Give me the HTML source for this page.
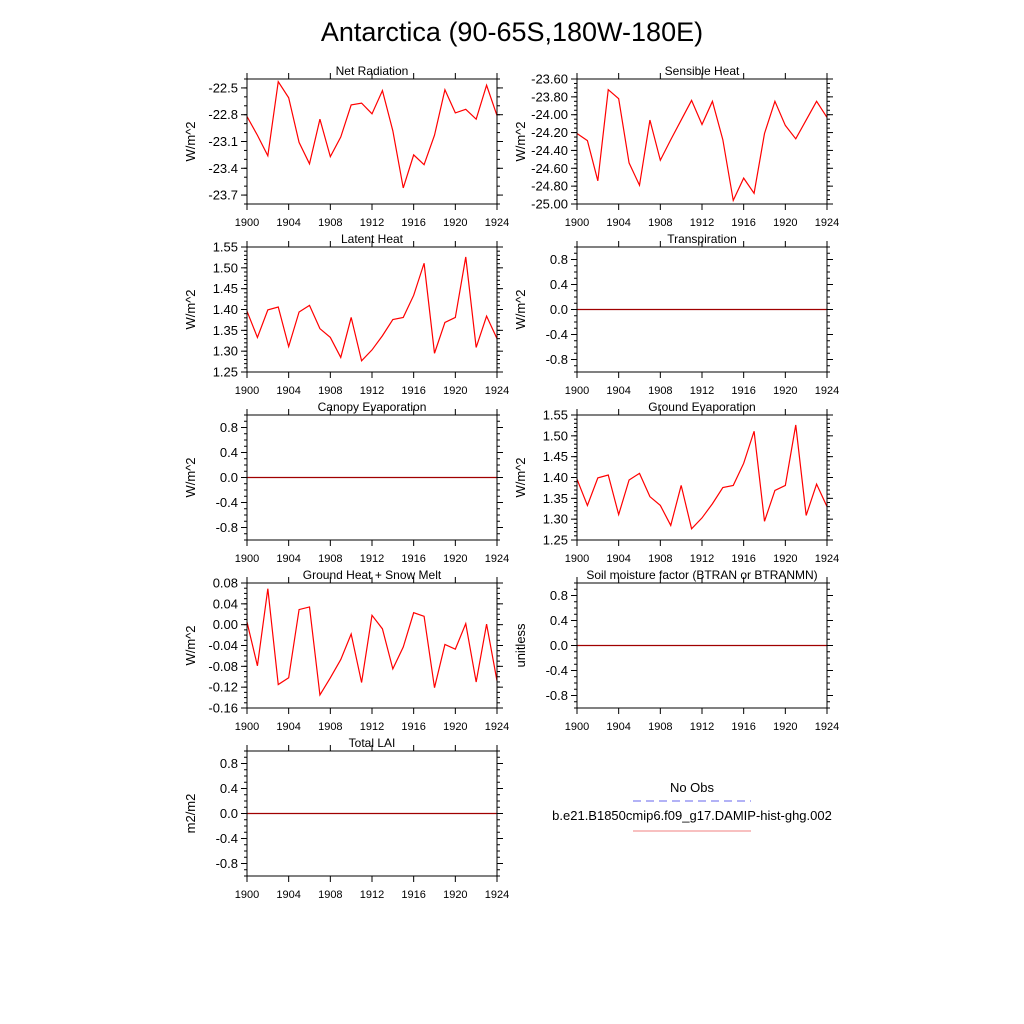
<!DOCTYPE html>
<html><head><meta charset="utf-8"><style>
body{margin:0;background:#fff;}
svg{display:block;font-family:"Liberation Sans",sans-serif;}
</style></head><body>
<svg id="chart" width="1024" height="1024" viewBox="0 0 1024 1024">
<rect width="1024" height="1024" fill="#fff"/>
<text x="512" y="41" text-anchor="middle" font-size="27">Antarctica (90-65S,180W-180E)</text>
<g id="panels"></g>
<g>
<text x="692" y="792" text-anchor="middle" font-size="13">No Obs</text>
<line x1="633" y1="801" x2="751" y2="801" stroke="#6666ee" stroke-width="1" stroke-dasharray="8,5"/>
<text x="692" y="820" text-anchor="middle" font-size="13">b.e21.B1850cmip6.f09_g17.DAMIP-hist-ghg.002</text>
<line x1="633" y1="831" x2="751" y2="831" stroke="#f08080" stroke-width="1"/>
</g>
</svg>
<script>
const years = [1900,1901,1902,1903,1904,1905,1906,1907,1908,1909,1910,1911,1912,1913,1914,1915,1916,1917,1918,1919,1920,1921,1922,1923,1924];
const xTicks = [1900,1904,1908,1912,1916,1920,1924];
const netRad = [-22.82,-23.03,-23.26,-22.43,-22.61,-23.11,-23.35,-22.85,-23.27,-23.05,-22.69,-22.67,-22.79,-22.53,-22.98,-23.62,-23.25,-23.36,-23.03,-22.52,-22.78,-22.74,-22.85,-22.47,-22.81];
const sensible = [-24.21,-24.29,-24.74,-23.72,-23.82,-24.54,-24.79,-24.06,-24.51,-24.28,-24.06,-23.84,-24.11,-23.85,-24.28,-24.96,-24.71,-24.88,-24.21,-23.85,-24.12,-24.27,-24.06,-23.85,-24.03];
const latent = [1.396,1.333,1.399,1.406,1.311,1.394,1.41,1.354,1.333,1.285,1.381,1.277,1.303,1.337,1.376,1.381,1.434,1.511,1.295,1.369,1.381,1.526,1.309,1.384,1.33];
const groundEvap = [1.396,1.333,1.399,1.406,1.311,1.394,1.41,1.354,1.333,1.285,1.381,1.277,1.303,1.337,1.376,1.381,1.434,1.511,1.295,1.369,1.381,1.526,1.309,1.384,1.33];
const groundHeat = [0.005,-0.079,0.069,-0.115,-0.102,0.029,0.034,-0.135,-0.102,-0.067,-0.018,-0.111,0.018,-0.008,-0.085,-0.043,0.023,0.016,-0.121,-0.038,-0.047,0.002,-0.11,0.001,-0.108];
const zeros = [0,0,0,0,0,0,0,0,0,0,0,0,0,0,0,0,0,0,0,0,0,0,0,0,0];
const netRadTicks = [-22.5,-22.8,-23.1,-23.4,-23.7];
const sensibleTicks = [-23.6,-23.8,-24.0,-24.2,-24.4,-24.6,-24.8,-25.0];
const latentTicks = [1.25,1.30,1.35,1.40,1.45,1.50,1.55];
const groundHeatTicks = [0.08,0.04,0.00,-0.04,-0.08,-0.12,-0.16];
const flatTicks = [0.8,0.4,0.0,-0.4,-0.8];

const NS="http://www.w3.org/2000/svg";
const root=document.getElementById('panels');
function mk(tag,attrs,parent){const e=document.createElementNS(NS,tag);for(const k in attrs)e.setAttribute(k,attrs[k]);parent.appendChild(e);return e;}

function panel(slug,title,ylabel,left,top,data,ymin,ymax,ticks,dec,minorStep,lineColor){
  const W=250,H=125;
  const g=mk('g',{},root);
  
  
  const xs=v=>left+(v-1900)/24*W;
  const ys=v=>top+(ymax-v)/(ymax-ymin)*H;
  // minor y ticks
  if(minorStep){
    const n=Math.round((ymax-ymin)/minorStep);
    for(let i=0;i<=n;i++){const y=ys(ymin+i*minorStep);
      mk('line',{x1:left-3,y1:y,x2:left,y2:y,stroke:'#000','stroke-width':1},g);
      mk('line',{x1:left+W,y1:y,x2:left+W+3,y2:y,stroke:'#000','stroke-width':1},g);}
  }
  ticks.forEach(t=>{const y=ys(t);
    mk('line',{x1:left-6,y1:y,x2:left,y2:y,stroke:'#000','stroke-width':1},g);
    mk('line',{x1:left+W,y1:y,x2:left+W+6,y2:y,stroke:'#000','stroke-width':1},g);
    const tx=mk('text',{x:left-9,y:y+4.5,'text-anchor':'end','font-size':13},g);
    
    
    tx.textContent=t.toFixed(dec);});
  xTicks.forEach(t=>{const x=xs(t);
    mk('line',{x1:x,y1:top+H,x2:x,y2:top+H+6,stroke:'#000','stroke-width':1},g);
    mk('line',{x1:x,y1:top-6,x2:x,y2:top,stroke:'#000','stroke-width':1},g);
    const tx=mk('text',{x:x,y:top+H+22,'text-anchor':'middle','font-size':11},g);
    
    
    tx.textContent=t;});
  const pts=years.map((yr,i)=>xs(yr).toFixed(2)+','+ys(data[i]).toFixed(2)).join(' ');
  const pl=mk('polyline',{points:pts,fill:'none',stroke:lineColor,'stroke-width':1.2},g);
  
  
  const fr=mk('rect',{x:left,y:top,width:W,height:H,fill:'none',stroke:'#000','stroke-width':1},g);
  
  
  const tt=mk('text',{x:left+W/2,y:top-4,'text-anchor':'middle','font-size':12},g);
  
  
  tt.textContent=title;
  const yl=mk('text',{x:0,y:0,'text-anchor':'middle','font-size':13,transform:`translate(${left-52},${top+H/2}) rotate(-90)`},g);
  
  
  yl.textContent=ylabel;
}
const L=247,R=577;
panel('net-radiation','Net Radiation','W/m^2',L,79,netRad,-23.8,-22.4,netRadTicks,1,0.1,'#ff0000');
panel('sensible-heat','Sensible Heat','W/m^2',R,79,sensible,-25.0,-23.6,sensibleTicks,2,0.05,'#ff0000');
panel('latent-heat','Latent Heat','W/m^2',L,247,latent,1.25,1.55,latentTicks,2,0.01,'#ff0000');
panel('transpiration','Transpiration','W/m^2',R,247,zeros,-1,1,flatTicks,1,0.1,'#a00000');
panel('canopy-evaporation','Canopy Evaporation','W/m^2',L,415,zeros,-1,1,flatTicks,1,0.1,'#a00000');
panel('ground-evaporation','Ground Evaporation','W/m^2',R,415,groundEvap,1.25,1.55,latentTicks,2,0.01,'#ff0000');
panel('ground-heat-snow-melt','Ground Heat + Snow Melt','W/m^2',L,583,groundHeat,-0.16,0.08,groundHeatTicks,2,0.01,'#ff0000');
panel('soil-moisture-factor','Soil moisture factor (BTRAN or BTRANMN)','unitless',R,583,zeros,-1,1,flatTicks,1,0.1,'#a00000');
panel('total-lai','Total LAI','m2/m2',L,751,zeros,-1,1,flatTicks,1,0.1,'#a00000');
</script>
</body></html>
